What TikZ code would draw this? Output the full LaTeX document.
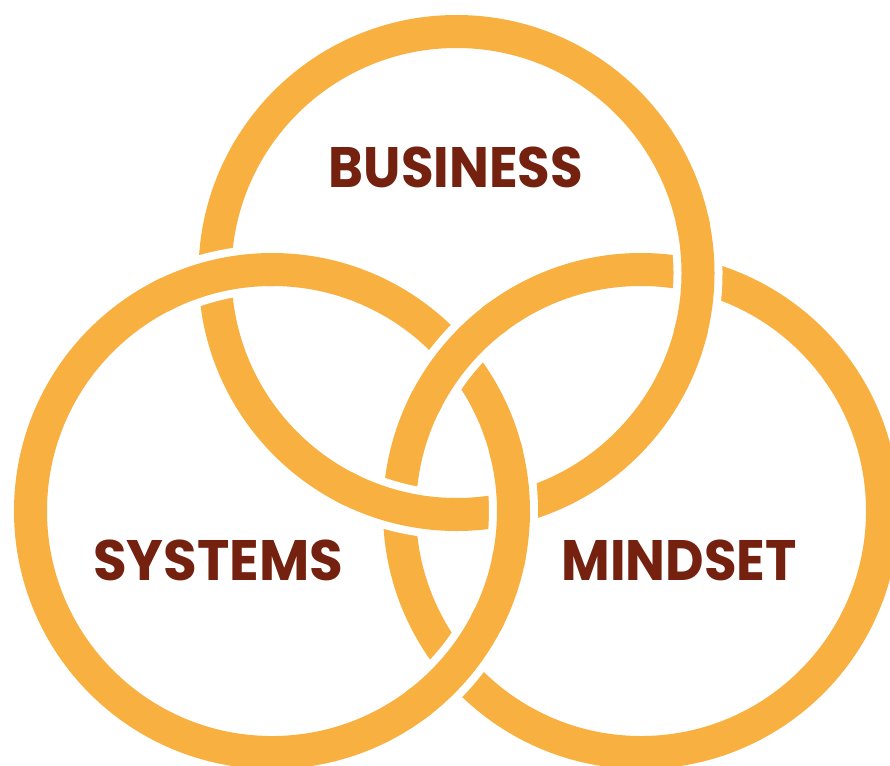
\documentclass[tikz,border=0pt]{standalone}
\usepackage{fontspec}
\setmainfont{Poppins}
\definecolor{ringorange}{HTML}{F8B040}
\definecolor{wordbrown}{HTML}{74210F}
% redraw a piece of ring #1 over the crossing at angle #2, with a white gap round it
\newcommand\ringover[2]{%
  \pgfmathsetmacro\cutA{#2-12}\pgfmathsetmacro\cutB{#2+12}%
  \pgfmathsetmacro\arcA{#2-14}\pgfmathsetmacro\arcB{#2+14}%
  \draw[gapcut] ([shift={(\cutA:241.5)}]#1) arc[start angle=\cutA, end angle=\cutB, radius=241.5];
  \draw[ring] ([shift={(\arcA:241.5)}]#1) arc[start angle=\arcA, end angle=\arcB, radius=241.5];
}
% slightly condensed word
\newcommand\narrowword[2]{\scalebox{#1}[1]{#2}}
\begin{document}
\begin{tikzpicture}[x=1pt,y=-1pt,
  ring/.style={draw=ringorange,line width=33pt},
  gapcut/.style={draw=white,line width=49pt},
  wordstyle/.style={font=\bfseries\fontsize{57}{57}\selectfont,text=wordbrown,anchor=base,inner sep=0pt}]
\useasboundingbox (0,0) rectangle (890,765);
\clip (0,0) rectangle (890,765);
\fill[white] (0,0) rectangle (890,765);
\coordinate (B) at (456.5,273);
\coordinate (S) at (272,511);
\coordinate (M) at (641,511);
% the three rings
\draw[ring] (B) circle[radius=241.5];
\draw[ring] (S) circle[radius=241.5];
\draw[ring] (M) circle[radius=241.5];
% over-passes at the six crossings
\ringover{S}{-103.4}
\ringover{S}{-1.4}
\ringover{B}{1}
\ringover{B}{103.7}
\ringover{M}{-140.2}
\ringover{S}{39.7}
% labels
\node[wordstyle] (business) at (456,187) {\narrowword{0.93}{BUSINESS}};
\node[wordstyle] (systems) at (218,580) {\narrowword{0.96}{SYSTEMS}};
\node[wordstyle] (mindset) at (679,580) {\narrowword{0.93}{MINDSET}};
\end{tikzpicture}
\end{document}
